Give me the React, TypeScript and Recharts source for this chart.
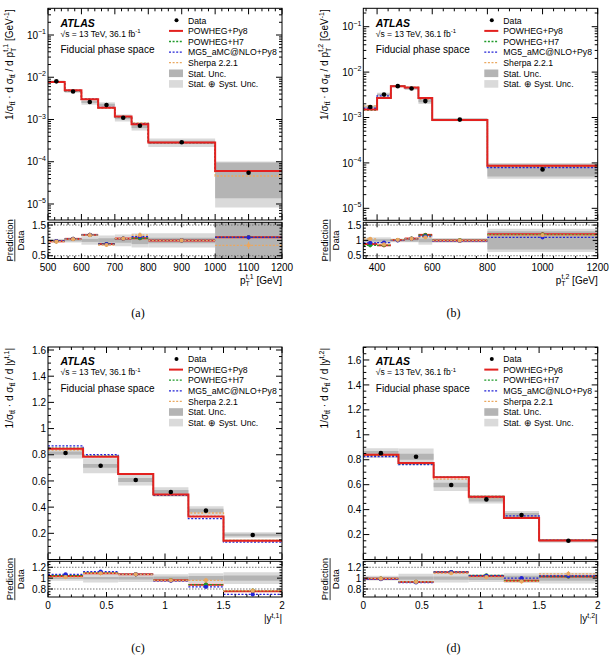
import React from 'react';
import { ComposedChart, Line, Scatter, XAxis, YAxis, ReferenceArea, ReferenceLine, ErrorBar } from 'recharts';

const W = 609;
const H = 656;
const FONT = '"Liberation Sans", Arial, Helvetica, sans-serif';
const SERIF = '"Liberation Serif", "Times New Roman", serif';

// ---------- Panel (a): pT t,1 ----------
const edgesA = [500, 550, 600, 650, 700, 750, 800, 1000, 1200];
const dataA = [8.0e-3, 4.6e-3, 2.6e-3, 2.2e-3, 1.1e-3, 7.1e-4, 2.9e-4, 5.5e-5];
const powA = [7.7e-3, 4.9e-3, 3.0e-3, 1.9e-3, 1.18e-3, 7.7e-4, 2.85e-4, 6.0e-5];
const h7A = [7.75e-3, 4.85e-3, 3.0e-3, 1.92e-3, 1.17e-3, 7.7e-4, 2.85e-4, 6.0e-5];
const mg5A = [7.8e-3, 4.85e-3, 3.05e-3, 1.93e-3, 1.17e-3, 8.0e-4, 2.85e-4, 6.0e-5];
const sherpaA = [7.7e-3, 4.8e-3, 3.0e-3, 1.87e-3, 1.17e-3, 8.3e-4, 2.85e-4, 4.6e-5];
const rPowA = [0.97, 1.05, 1.18, 0.88, 1.06, 1.07, 1.0, 1.1];
const rH7A = [0.97, 1.05, 1.18, 0.88, 1.06, 1.07, 1.0, 1.1];
const rMg5A = [0.98, 1.05, 1.18, 0.88, 1.06, 1.12, 1.0, 1.1];
const rSherpaA = [0.96, 1.04, 1.17, 0.85, 1.06, 1.17, 1.0, 0.84];
const eMcA = [0.02, 0.02, 0.02, 0.03, 0.03, 0.03, 0.02, 0.03];
const eSherpaA = [0.03, 0.03, 0.04, 0.06, 0.05, 0.09, 0.04, 0.12];
const statA = [0.02, 0.03, 0.05, 0.07, 0.08, 0.12, 0.09, 0.75];
const totA = [0.05, 0.07, 0.14, 0.16, 0.19, 0.23, 0.23, 0.85];

// ---------- Panel (b): pT t,2 ----------
const edgesB = [350, 400, 450, 500, 550, 600, 800, 1200];
const dataB = [1.7e-3, 3.2e-3, 4.9e-3, 4.35e-3, 2.3e-3, 9.0e-4, 7.2e-5];
const powB = [1.5e-3, 2.7e-3, 4.9e-3, 4.6e-3, 2.7e-3, 8.8e-4, 8.7e-5];
const h7B = [1.45e-3, 2.7e-3, 4.9e-3, 4.6e-3, 2.7e-3, 8.8e-4, 8.6e-5];
const mg5B = [1.6e-3, 3.0e-3, 4.9e-3, 4.55e-3, 2.6e-3, 8.8e-4, 7.9e-5];
const sherpaB = [1.8e-3, 2.8e-3, 4.95e-3, 4.55e-3, 2.5e-3, 8.9e-4, 8.4e-5];
const rPowB = [0.88, 0.84, 1.01, 1.06, 1.18, 1.0, 1.2];
const rH7B = [0.84, 0.85, 1.01, 1.06, 1.17, 1.0, 1.19];
const rMg5B = [0.92, 0.93, 1.0, 1.05, 1.13, 0.98, 1.1];
const rSherpaB = [1.05, 0.87, 1.02, 1.05, 1.1, 0.99, 1.17];
const eMcB = [0.03, 0.02, 0.02, 0.02, 0.03, 0.02, 0.04];
const eSherpaB = [0.05, 0.04, 0.03, 0.03, 0.05, 0.03, 0.08];
const statB = [0.04, 0.04, 0.03, 0.04, 0.06, 0.04, 0.3];
const totB = [0.1, 0.1, 0.06, 0.06, 0.14, 0.08, 0.38];

// ---------- Panel (c): |y t,1| ----------
const edgesC = [0, 0.3, 0.6, 0.9, 1.2, 1.5, 2.0];
const dataC = [0.813, 0.716, 0.607, 0.515, 0.373, 0.187];
const powC = [0.846, 0.785, 0.653, 0.497, 0.329, 0.143];
const h7C = [0.85, 0.79, 0.65, 0.495, 0.33, 0.145];
const mg5C = [0.868, 0.8, 0.65, 0.49, 0.312, 0.132];
const sherpaC = [0.835, 0.785, 0.65, 0.495, 0.355, 0.145];
const rPowC = [1.04, 1.09, 1.07, 0.96, 0.88, 0.76];
const rH7C = [1.05, 1.1, 1.07, 0.96, 0.88, 0.77];
const rMg5C = [1.07, 1.12, 1.07, 0.95, 0.84, 0.7];
const rSherpaC = [1.02, 1.09, 1.07, 0.96, 0.96, 0.77];
const eMcC = [0.01, 0.01, 0.01, 0.01, 0.015, 0.02];
const eSherpaC = [0.02, 0.02, 0.02, 0.03, 0.04, 0.04];
const statC = [0.015, 0.02, 0.025, 0.03, 0.04, 0.05];
const totC = [0.05, 0.08, 0.07, 0.07, 0.09, 0.11];

// ---------- Panel (d): |y t,2| ----------
const edgesD = [0, 0.3, 0.6, 0.9, 1.2, 1.5, 2.0];
const dataD = [0.853, 0.824, 0.597, 0.482, 0.357, 0.15];
const powD = [0.84, 0.773, 0.659, 0.504, 0.333, 0.152];
const h7D = [0.835, 0.77, 0.66, 0.505, 0.335, 0.153];
const mg5D = [0.825, 0.76, 0.66, 0.5, 0.35, 0.155];
const sherpaD = [0.84, 0.77, 0.645, 0.495, 0.34, 0.16];
const rPowD = [0.99, 0.93, 1.11, 1.04, 0.95, 1.03];
const rH7D = [0.99, 0.93, 1.11, 1.05, 0.95, 1.03];
const rMg5D = [0.98, 0.92, 1.11, 1.04, 1.0, 1.04];
const rSherpaD = [0.99, 0.93, 1.09, 1.02, 0.94, 1.08];
const eMcD = [0.01, 0.01, 0.01, 0.01, 0.015, 0.02];
const eSherpaD = [0.02, 0.02, 0.02, 0.03, 0.04, 0.05];
const statD = [0.02, 0.03, 0.03, 0.035, 0.045, 0.05];
const totD = [0.045, 0.08, 0.08, 0.07, 0.09, 0.1];

// ---------- axis ticks ----------
const xMajorA = [500, 600, 700, 800, 900, 1000, 1100, 1200];
const xMajorB = [400, 600, 800, 1000, 1200];
const xMajorY = [0, 0.5, 1, 1.5, 2];
const yMajorLog = [1e-5, 1e-4, 1e-3, 1e-2, 1e-1];
const yMajorLin = [0.2, 0.4, 0.6, 0.8, 1, 1.2, 1.4, 1.6];
const rMajorPt = [0.5, 1, 1.5];
const rMajorY = [0.8, 1, 1.2];

const legendLabels = ['Data', 'POWHEG+Py8', 'POWHEG+H7', 'MG5_aMC@NLO+Py8', 'Sherpa 2.2.1', 'Stat. Unc.', 'Stat. \u2295 Syst. Unc.'];
const captions = ['(a)', '(b)', '(c)', '(d)'];

const C_RED = '#e3211f';
const C_GREEN = '#1f9a2a';
const C_BLUE = '#2323d6';
const C_ORANGE = '#eaa860';
const C_STAT = '#b4b4b4';
const C_TOT = '#dadada';

type Rect = { x0: number; x1: number; y0: number; y1: number };

const range = (a: number, b: number, s: number) => {
  const out: number[] = [];
  for (let v = a; v <= b + 1e-9; v += s) out.push(Math.round(v * 1e6) / 1e6);
  return out;
};
const logTicks = (lo: number, hi: number) => {
  const out: number[] = [];
  for (let e = -8; e <= 1; e++) for (let k = 1; k <= 9; k++) {
    const v = k * Math.pow(10, e);
    if (v >= lo && v <= hi) out.push(v);
  }
  return out;
};

type Panel = {
  edges: number[]; data: number[]; pow: number[]; h7: number[]; mg5: number[]; sherpa: number[];
  rPow: number[]; rH7: number[]; rMg5: number[]; rSherpa: number[]; eMc: number[]; eSherpa: number[];
  stat: number[]; tot: number[];
  log: boolean; yDomain: [number, number]; yMajor: number[]; yTicks: number[];
  xDomain: [number, number]; xMajor: number[]; xTicks: number[];
  rDomain: [number, number]; rMajor: number[]; rTicks: number[]; rLines: number[];
  main: Rect; ratio: Rect; kind: 'pt' | 'y'; idx: string; caption: string;
};

const domA: [number, number] = [Math.pow(10, -5.379), Math.pow(10, -0.368)];
const domB: [number, number] = [Math.pow(10, -5.264), Math.pow(10, -0.595)];

const panels: Panel[] = [
  {
    edges: edgesA, data: dataA, pow: powA, h7: h7A, mg5: mg5A, sherpa: sherpaA,
    rPow: rPowA, rH7: rH7A, rMg5: rMg5A, rSherpa: rSherpaA, eMc: eMcA, eSherpa: eSherpaA, stat: statA, tot: totA,
    log: true, yDomain: domA, yMajor: yMajorLog, yTicks: logTicks(domA[0], domA[1]),
    xDomain: [500, 1200], xMajor: xMajorA, xTicks: range(500, 1200, 20),
    rDomain: [0.41, 1.59], rMajor: rMajorPt, rTicks: range(0.5, 1.5, 0.1), rLines: [0.5, 1.5],
    main: { x0: 48, x1: 282, y0: 8.3, y1: 220 }, ratio: { x0: 48, x1: 282, y0: 222.3, y1: 258.5 },
    kind: 'pt', idx: 't,1', caption: captions[0],
  },
  {
    edges: edgesB, data: dataB, pow: powB, h7: h7B, mg5: mg5B, sherpa: sherpaB,
    rPow: rPowB, rH7: rH7B, rMg5: rMg5B, rSherpa: rSherpaB, eMc: eMcB, eSherpa: eSherpaB, stat: statB, tot: totB,
    log: true, yDomain: domB, yMajor: yMajorLog, yTicks: logTicks(domB[0], domB[1]),
    xDomain: [350, 1200], xMajor: xMajorB, xTicks: range(360, 1200, 40),
    rDomain: [0.41, 1.59], rMajor: rMajorPt, rTicks: range(0.5, 1.5, 0.1), rLines: [0.5, 1.5],
    main: { x0: 363.3, x1: 597.7, y0: 8.3, y1: 220.3 }, ratio: { x0: 363.3, x1: 597.7, y0: 222.3, y1: 258.5 },
    kind: 'pt', idx: 't,2', caption: captions[1],
  },
  {
    edges: edgesC, data: dataC, pow: powC, h7: h7C, mg5: mg5C, sherpa: sherpaC,
    rPow: rPowC, rH7: rH7C, rMg5: rMg5C, rSherpa: rSherpaC, eMc: eMcC, eSherpa: eSherpaC, stat: statC, tot: totC,
    log: false, yDomain: [0, 1.623], yMajor: yMajorLin, yTicks: range(0.05, 1.6, 0.05),
    xDomain: [0, 2], xMajor: xMajorY, xTicks: range(0, 2, 0.1),
    rDomain: [0.653, 1.31], rMajor: rMajorY, rTicks: range(0.7, 1.3, 0.05), rLines: [0.8, 1.2],
    main: { x0: 48, x1: 282, y0: 347, y1: 559.5 }, ratio: { x0: 48, x1: 282, y0: 561.3, y1: 597 },
    kind: 'y', idx: 't,1', caption: captions[2],
  },
  {
    edges: edgesD, data: dataD, pow: powD, h7: h7D, mg5: mg5D, sherpa: sherpaD,
    rPow: rPowD, rH7: rH7D, rMg5: rMg5D, rSherpa: rSherpaD, eMc: eMcD, eSherpa: eSherpaD, stat: statD, tot: totD,
    log: false, yDomain: [0, 1.704], yMajor: yMajorLin, yTicks: range(0.05, 1.7, 0.05),
    xDomain: [0, 2], xMajor: xMajorY, xTicks: range(0, 2, 0.1),
    rDomain: [0.653, 1.31], rMajor: rMajorY, rTicks: range(0.7, 1.3, 0.05), rLines: [0.8, 1.2],
    main: { x0: 363.3, x1: 597.7, y0: 347, y1: 559.5 }, ratio: { x0: 363.3, x1: 597.7, y0: 561.3, y1: 597 },
    kind: 'y', idx: 't,2', caption: captions[3],
  },
];

const isMajor = (v: number, majors: number[]) => majors.some((m) => Math.abs(m - v) <= 1e-6 * Math.max(1e-12, Math.abs(m)) + 1e-9);
const fmtNum = (v: number) => String(Number(v.toFixed(3)));

const makeXTick = (r: Rect, majors: number[], len: number, labels: boolean) => (props: any) => {
  const { x, payload } = props;
  const v = payload.value as number;
  const maj = isMajor(v, majors);
  const L = maj ? len : len / 2;
  return (
    <g>
      <line x1={x} x2={x} y1={r.y1} y2={r.y1 - L} stroke="#000" strokeWidth={1} />
      <line x1={x} x2={x} y1={r.y0} y2={r.y0 + L} stroke="#000" strokeWidth={1} />
      {labels && maj ? (
        <text x={x} y={r.y1 + 12} textAnchor="middle" fontSize={10} fontFamily={FONT} fill="#000">{fmtNum(v)}</text>
      ) : null}
    </g>
  );
};

const makeYTick = (r: Rect, majors: number[], len: number, log: boolean) => (props: any) => {
  const { y, payload } = props;
  const v = payload.value as number;
  const maj = log ? Math.abs(Math.log10(v) - Math.round(Math.log10(v))) < 1e-6 : isMajor(v, majors);
  const L = maj ? len : len / 2;
  let label: React.ReactNode = null;
  if (maj) {
    if (log) {
      const e = Math.round(Math.log10(v));
      label = (
        <text x={r.x0 - 2} y={y + 3.6} textAnchor="end" fontSize={10} fontFamily={FONT} fill="#000">
          10<tspan dy={-4.5} fontSize={7}>{'\u2212' + String(-e)}</tspan>
        </text>
      );
    } else {
      label = (
        <text x={r.x0 - 2} y={y + 3.6} textAnchor="end" fontSize={10} fontFamily={FONT} fill="#000">{fmtNum(v)}</text>
      );
    }
  }
  return (
    <g>
      <line x1={r.x0} x2={r.x0 + L} y1={y} y2={y} stroke="#000" strokeWidth={1} />
      <line x1={r.x1} x2={r.x1 - L} y1={y} y2={y} stroke="#000" strokeWidth={1} />
      {label}
    </g>
  );
};

const YW = 40;
const XH = 20;
const marginFor = (r: Rect) => ({ left: r.x0 - YW, right: W - r.x1, top: r.y0, bottom: H - r.y1 - XH });

const stepData = (edges: number[], vals: number[]) =>
  edges.map((e, i) => ({ x: e, y: vals[Math.min(i, vals.length - 1)] }));

const dot = (fill: string, rad: number) => (p: any) =>
  p.cx == null || p.cy == null ? <g /> : <circle cx={p.cx} cy={p.cy} r={rad} fill={fill} />;

function MainChart({ p }: { p: Panel }) {
  const r = p.main;
  const clampY = (v: number) => Math.min(p.yDomain[1], Math.max(p.yDomain[0], v));
  const pts = p.data.map((d, i) => ({ x: (p.edges[i] + p.edges[i + 1]) / 2, y: d }));
  const preds: { vals: number[]; color: string; w: number; dash?: string }[] = [
    { vals: p.sherpa, color: C_ORANGE, w: 1.3, dash: '2 1.6' },
    { vals: p.mg5, color: C_BLUE, w: 1.3, dash: '2 1.6' },
    { vals: p.h7, color: C_GREEN, w: 1.3, dash: '2 1.6' },
    { vals: p.pow, color: C_RED, w: 2 },
  ];
  return (
    <div style={{ position: 'absolute', left: 0, top: 0 }}>
      <ComposedChart width={W} height={H} margin={marginFor(r)}>
        {p.data.map((d, i) => (
          <ReferenceArea key={'t' + i} x1={p.edges[i]} x2={p.edges[i + 1]} y1={clampY(d * (1 - p.tot[i]))} y2={clampY(d * (1 + p.tot[i]))}
            fill={C_TOT} fillOpacity={1} stroke="none" ifOverflow="visible" />
        ))}
        {p.data.map((d, i) => (
          <ReferenceArea key={'s' + i} x1={p.edges[i]} x2={p.edges[i + 1]} y1={clampY(d * (1 - p.stat[i]))} y2={clampY(d * (1 + p.stat[i]))}
            fill={C_STAT} fillOpacity={1} stroke="none" ifOverflow="visible" />
        ))}
        {preds.map((s, k) => (
          <Line key={'l' + k} data={stepData(p.edges, s.vals)} dataKey="y" type="stepAfter" stroke={s.color} strokeWidth={s.w}
            strokeDasharray={s.dash} dot={false} activeDot={false} isAnimationActive={false} />
        ))}
        <Scatter data={pts} fill="#000" shape={dot('#000', 2.3)} isAnimationActive={false} />
        <XAxis xAxisId={0} type="number" dataKey="x" domain={p.xDomain} allowDataOverflow ticks={p.xTicks} interval={0}
          tickSize={0} tickMargin={0} tickLine={false} axisLine={false} height={XH} tick={makeXTick(r, p.xMajor, 6, false)} />
        <YAxis yAxisId={0} type="number" dataKey="y" scale={p.log ? 'log' : 'linear'} domain={p.yDomain} allowDataOverflow
          ticks={p.yTicks} interval={0} tickSize={0} tickMargin={0} tickLine={false} axisLine={false} width={YW}
          tick={makeYTick(r, p.yMajor, 6, p.log)} />
      </ComposedChart>
    </div>
  );
}

function RatioChart({ p }: { p: Panel }) {
  const r = p.ratio;
  const clampR = (v: number) => Math.min(p.rDomain[1], Math.max(p.rDomain[0], v));
  const n = p.data.length;
  const mk = (vals: number[], errs: number[]) =>
    vals.map((v, i) => ({ x: (p.edges[i] + p.edges[i + 1]) / 2, y: v, xe: (p.edges[i + 1] - p.edges[i]) / 2, ye: errs[i] }));
  const series: { d: any[]; color: string; w: number; dash?: string }[] = [
    { d: mk(p.rPow, p.eMc), color: C_RED, w: 2 },
    { d: mk(p.rH7, p.eMc), color: C_GREEN, w: 1.3, dash: '2 1.6' },
    { d: mk(p.rMg5, p.eMc), color: C_BLUE, w: 1.3, dash: '2 1.6' },
    { d: mk(p.rSherpa, p.eSherpa), color: C_ORANGE, w: 1.3, dash: '2 1.6' },
  ];
  const bins = Array.from({ length: n }, (_, i) => i);
  return (
    <div style={{ position: 'absolute', left: 0, top: 0 }}>
      <ComposedChart width={W} height={H} margin={marginFor(r)}>
        {bins.map((i) => (
          <ReferenceArea key={'t' + i} x1={p.edges[i]} x2={p.edges[i + 1]} y1={clampR(1 - p.tot[i])} y2={clampR(1 + p.tot[i])}
            fill={C_TOT} fillOpacity={1} stroke="none" ifOverflow="visible" />
        ))}
        {bins.map((i) => (
          <ReferenceArea key={'s' + i} x1={p.edges[i]} x2={p.edges[i + 1]} y1={clampR(1 - p.stat[i])} y2={clampR(1 + p.stat[i])}
            fill={C_STAT} fillOpacity={1} stroke="none" ifOverflow="visible" />
        ))}
        {p.rLines.map((v) => (
          <ReferenceLine key={'rl' + v} y={v} stroke="#777" strokeWidth={1} strokeDasharray="1.5 1.5" ifOverflow="visible" />
        ))}
        {series.map((s, k) => (
          <Scatter key={'r' + k} data={s.d} fill={s.color} shape={dot(s.color, 2.1)} isAnimationActive={false}>
            <ErrorBar dataKey="xe" direction="x" width={0} stroke={s.color} strokeWidth={s.w} strokeDasharray={s.dash} />
            <ErrorBar dataKey="ye" direction="y" width={0} stroke={s.color} strokeWidth={1} />
          </Scatter>
        ))}
        <XAxis xAxisId={0} type="number" dataKey="x" domain={p.xDomain} allowDataOverflow ticks={p.xTicks} interval={0}
          tickSize={0} tickMargin={0} tickLine={false} axisLine={false} height={XH} tick={makeXTick(r, p.xMajor, 5, true)} />
        <YAxis yAxisId={0} type="number" dataKey="y" domain={p.rDomain} allowDataOverflow ticks={p.rTicks} interval={0}
          tickSize={0} tickMargin={0} tickLine={false} axisLine={false} width={YW} tick={makeYTick(r, p.rMajor, 5, false)} />
      </ComposedChart>
    </div>
  );
}

function Overlay() {
  const t = (x: number, y: number, s: React.ReactNode, fs: number, extra: any = {}) => (
    <text x={x} y={y} fontSize={fs} fontFamily={FONT} fill="#000" {...extra}>{s}</text>
  );
  return (
    <svg width={W} height={H} style={{ position: 'absolute', left: 0, top: 0, pointerEvents: 'none' }}>
      {panels.map((p, k) => {
        const m = p.main;
        const r = p.ratio;
        const leftShift = m.x0 - 48;
        const lx = m.x0 + 121;
        const rows = legendLabels.map((_, i) => m.y0 + 12 + i * 10.6);
        const titleX = 13 + leftShift;
        return (
          <g key={'p' + k}>
            <rect x={m.x0} y={m.y0} width={m.x1 - m.x0} height={m.y1 - m.y0} fill="none" stroke="#000" strokeWidth={1} />
            <rect x={r.x0} y={r.y0} width={r.x1 - r.x0} height={r.y1 - r.y0} fill="none" stroke="#000" strokeWidth={1} />
            {t(m.x0 + 12.5, m.y0 + 18.3, 'ATLAS', 10.5, { fontWeight: 'bold', fontStyle: 'italic' })}
            <text x={m.x0 + 12.5} y={m.y0 + 28.3} fontSize={8.5} fontFamily={FONT}>
              {'\u221As = 13 TeV, 36.1 fb'}<tspan dy={-3.5} fontSize={6}>-1</tspan>
            </text>
            {t(m.x0 + 12.5, m.y0 + 45, 'Fiducial phase space', 10)}
            {/* legend */}
            <circle cx={lx + 7.5} cy={rows[0]} r={2} fill="#000" />
            <line x1={lx} x2={lx + 14} y1={rows[1]} y2={rows[1]} stroke={C_RED} strokeWidth={2} />
            <line x1={lx} x2={lx + 14} y1={rows[2]} y2={rows[2]} stroke={C_GREEN} strokeWidth={1.3} strokeDasharray="2 1.6" />
            <line x1={lx} x2={lx + 14} y1={rows[3]} y2={rows[3]} stroke={C_BLUE} strokeWidth={1.3} strokeDasharray="2 1.6" />
            <line x1={lx} x2={lx + 14} y1={rows[4]} y2={rows[4]} stroke={C_ORANGE} strokeWidth={1.3} strokeDasharray="2 1.6" />
            <rect x={lx} y={rows[5] - 3.8} width={14} height={7.6} fill={C_STAT} />
            <rect x={lx} y={rows[6] - 3.8} width={14} height={7.6} fill={C_TOT} />
            {legendLabels.map((lab, i) => (
              <text key={'lg' + i} x={lx + 19} y={rows[i] + 3.2} fontSize={8.7} fontFamily={FONT}>{lab}</text>
            ))}
            {/* y title main */}
            <text transform={`translate(${titleX},${m.y0 + 1}) rotate(-90)`} textAnchor="end" fontSize={10} fontFamily={FONT}>
              1/{'\u03C3'}<tspan fontSize={7} dy={2}>{'tt\u0304'}</tspan>
              <tspan dy={-2}>{' \u00B7 d \u03C3'}</tspan><tspan fontSize={7} dy={2}>{'tt\u0304'}</tspan>
              {p.kind === 'pt' ? (
                <>
                  <tspan dy={-2}>{' / d p'}</tspan><tspan fontSize={7} dy={2.5}>T</tspan>
                  <tspan fontSize={7} dx={-4} dy={-7.5}>{p.idx}</tspan>
                  <tspan dy={5}>{' [GeV'}</tspan><tspan fontSize={7} dy={-4}>{'-1'}</tspan><tspan dy={4}>]</tspan>
                </>
              ) : (
                <>
                  <tspan dy={-2}>{' / d |y'}</tspan><tspan fontSize={7} dy={-4}>{p.idx}</tspan><tspan dy={4}>|</tspan>
                </>
              )}
            </text>
            {/* ratio title */}
            <g transform={`translate(${titleX - 0.5},${(r.y0 + r.y1) / 2}) rotate(-90)`}>
              <text x={0} y={0} textAnchor="middle" fontSize={9.5} fontFamily={FONT}>Prediction</text>
              <line x1={-21} x2={21} y1={2.3} y2={2.3} stroke="#000" strokeWidth={0.8} />
              <text x={0} y={11.5} textAnchor="middle" fontSize={9.5} fontFamily={FONT}>Data</text>
            </g>
            {/* x title */}
            <text x={r.x1} y={r.y1 + 25} textAnchor="end" fontSize={10} fontFamily={FONT}>
              {p.kind === 'pt' ? (
                <>
                  p<tspan fontSize={7} dy={2.5}>T</tspan><tspan fontSize={7} dx={-4} dy={-7.5}>{p.idx}</tspan>
                  <tspan dy={5}>{' [GeV]'}</tspan>
                </>
              ) : (
                <>
                  |y<tspan fontSize={7} dy={-4}>{p.idx}</tspan><tspan dy={4}>|</tspan>
                </>
              )}
            </text>
            <text x={(m.x0 + m.x1) / 2 - 27} y={Math.min(r.y1 + 58.5, 652.3)} textAnchor="middle" fontSize={12} fontFamily={SERIF}>{p.caption}</text>
          </g>
        );
      })}
    </svg>
  );
}

export default function App() {
  return (
    <div style={{ position: 'absolute', left: 0, top: 0, width: W, height: H, background: '#fff', fontFamily: FONT }}>
      {panels.map((p, k) => (
        <React.Fragment key={k}>
          <MainChart p={p} />
          <RatioChart p={p} />
        </React.Fragment>
      ))}
      <Overlay />
    </div>
  );
}
